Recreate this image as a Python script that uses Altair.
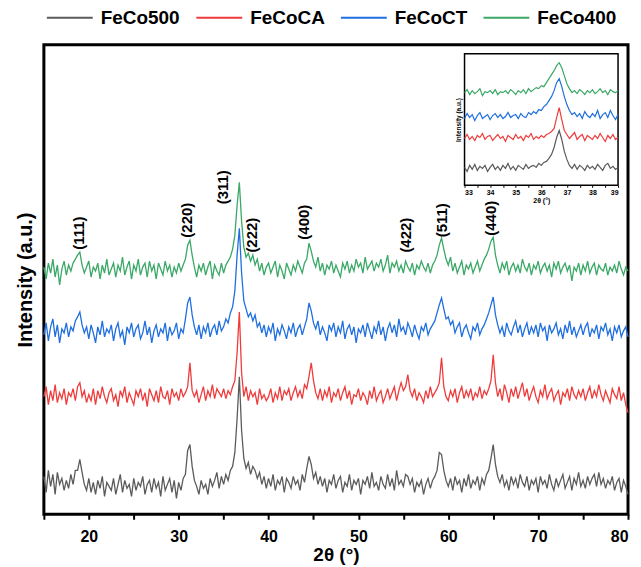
import altair as alt
import pandas as pd

# ---------------- data ----------------
series_names = ["FeCo500", "FeCoCA", "FeCoCT", "FeCo400"]
series_colors = ["#5b5b5b", "#ef3b3b", "#1f6fe0", "#3aa866"]
series_offsets = [0, 88, 152, 214]          # vertical stacking offsets (a.u.)

theta_start = 15.0                          # 2theta of first sample
theta_step = 0.25                           # sampling step

feco500 = [
    38, 22, 44, 28, 40, 20, 42, 30, 36, 24,
    34, 26, 40, 30, 44, 44, 55, 42, 30, 24,
    36, 22, 32, 20, 34, 26, 38, 18, 32, 28,
    24, 36, 20, 30, 40, 22, 34, 26, 30, 18,
    36, 24, 32, 28, 38, 20, 30, 34, 22, 36,
    26, 32, 18, 38, 24, 30, 36, 22, 34, 16,
    32, 24, 36, 40, 64, 70, 48, 34, 28, 20,
    34, 26, 30, 20, 36, 28, 34, 42, 26, 38,
    30, 40, 34, 44, 48, 62, 96, 138, 84, 56,
    46, 52, 40, 48, 44, 36, 42, 30, 38, 26,
    36, 28, 40, 24, 34, 30, 38, 22, 36, 32,
    26, 38, 30, 34, 24, 40, 32, 46, 58, 50,
    36, 42, 30, 38, 28, 36, 22, 34, 30, 40,
    26, 34, 38, 22, 32, 28, 40, 24, 34, 30,
    36, 20, 34, 30, 38, 26, 42, 28, 32, 24,
    38, 30, 26, 40, 28, 36, 24, 44, 30, 34,
    28, 40, 38, 30, 36, 22, 32, 28, 34, 20,
    30, 36, 26, 34, 38, 44, 62, 60, 44, 34,
    28, 36, 24, 38, 30, 34, 22, 36, 28, 40,
    26, 34, 30, 38, 24, 36, 30, 40, 44, 56,
    70, 50, 38, 32, 40, 28, 34, 24, 38, 30,
    36, 26, 40, 32, 28, 38, 24, 34, 30, 36,
    22, 38, 30, 34, 26, 40, 30, 24, 36, 28,
    34, 40, 26, 32, 38, 24, 36, 30, 42, 28,
    34, 26, 38, 30, 36, 40, 28, 42, 30, 36,
    26, 34, 30, 38, 24, 32, 36, 22, 34, 28,
    20,
]

fecoca = [
    30, 40, 22, 36, 26, 42, 24, 34, 28, 38,
    22, 34, 30, 38, 26, 40, 44, 30, 36, 24,
    32, 26, 38, 22, 36, 28, 40, 30, 24, 34,
    38, 26, 32, 20, 36, 30, 40, 24, 34, 28,
    22, 36, 30, 38, 26, 34, 20, 38, 32, 26,
    36, 24, 40, 30, 28, 36, 22, 38, 30, 34,
    26, 38, 30, 34, 40, 64, 36, 30, 36, 24,
    32, 40, 26, 36, 30, 42, 28, 38, 34, 30,
    38, 28, 36, 32, 40, 46, 74, 115, 54, 30,
    40, 26, 36, 30, 34, 22, 38, 28, 32, 26,
    30, 38, 24, 34, 28, 40, 26, 36, 32, 38,
    26, 34, 40, 30, 36, 28, 42, 38, 50, 64,
    46, 34, 28, 38, 26, 36, 30, 40, 24, 34,
    30, 38, 26, 34, 40, 28, 36, 22, 32, 30,
    38, 26, 34, 30, 22, 36, 28, 40, 26, 32,
    36, 24, 30, 38, 28, 34, 40, 26, 36, 44,
    36, 40, 52, 36, 30, 38, 26, 34, 30, 24,
    36, 28, 40, 30, 34, 38, 44, 69, 40, 30,
    26, 36, 30, 38, 24, 34, 40, 28, 36, 30,
    38, 26, 34, 30, 40, 28, 36, 32, 38, 46,
    72, 44, 30, 38, 26, 42, 34, 24, 38, 30,
    40, 28, 36, 44, 30, 38, 26, 34, 40, 30,
    24, 36, 30, 42, 28, 34, 38, 26, 32, 36,
    22, 34, 30, 38, 26, 40, 32, 28, 36, 30,
    38, 26, 34, 40, 28, 36, 30, 42, 32, 26,
    36, 30, 24, 38, 32, 28, 40, 26, 34, 22,
    14,
]

fecoct = [
    28, 40, 22, 36, 44, 26, 38, 20, 34, 30,
    40, 26, 36, 32, 42, 46, 51, 38, 30, 36,
    24, 38, 30, 20, 36, 28, 42, 26, 34, 30,
    38, 22, 34, 40, 26, 32, 18, 36, 30, 40,
    26, 34, 38, 24, 30, 42, 28, 36, 20, 32,
    38, 26, 34, 30, 40, 22, 36, 28, 32, 40,
    24, 34, 30, 44, 60, 66, 48, 36, 28, 38,
    24, 36, 30, 40, 26, 34, 38, 28, 42, 32,
    36, 44, 40, 50, 56, 72, 108, 135, 90, 62,
    54, 46, 50, 42, 48, 36, 40, 30, 38, 26,
    36, 30, 40, 22, 34, 28, 38, 32, 24, 36,
    30, 40, 26, 34, 38, 28, 36, 44, 60, 52,
    40, 34, 42, 28, 36, 30, 22, 38, 32, 40,
    26, 36, 30, 42, 24, 34, 38, 28, 36, 20,
    34, 30, 38, 26, 40, 32, 24, 36, 30, 42,
    28, 36, 22, 34, 40, 30, 38, 26, 44, 32,
    36, 28, 40, 34, 26, 38, 30, 24, 36, 32,
    40, 28, 34, 38, 42, 50, 58, 65, 54, 44,
    46, 38, 42, 30, 36, 40, 26, 34, 38, 30,
    24, 36, 32, 40, 28, 34, 38, 44, 50, 58,
    66, 48, 38, 30, 36, 26, 40, 32, 28, 36,
    42, 30, 38, 26, 34, 40, 28, 36, 30, 38,
    26, 40, 32, 36, 22, 38, 30, 34, 40, 28,
    34, 24, 38, 30, 42, 28, 36, 26, 32, 38,
    28, 36, 40, 26, 34, 30, 38, 24, 36, 32,
    40, 28, 34, 22, 36, 30, 38, 26, 32, 36,
    26,
]

feco400 = [
    34, 22, 38, 28, 42, 24, 36, 16, 32, 40,
    26, 36, 30, 38, 42, 46, 49, 36, 28, 34,
    40, 24, 34, 30, 38, 22, 36, 28, 42, 26,
    32, 38, 24, 36, 30, 44, 26, 34, 40, 22,
    36, 30, 42, 26, 34, 38, 24, 40, 30, 36,
    22, 38, 32, 26, 40, 30, 36, 24, 34, 28,
    38, 30, 36, 42, 56, 61, 46, 34, 24, 36,
    30, 38, 26, 34, 40, 22, 36, 30, 26, 38,
    28, 36, 40, 44, 52, 66, 96, 119, 80, 54,
    44, 48, 40, 46, 36, 42, 30, 38, 26, 34,
    38, 28, 34, 40, 24, 36, 30, 22, 38, 32,
    26, 36, 30, 40, 34, 28, 38, 42, 58, 50,
    40, 34, 44, 30, 38, 26, 36, 32, 40, 28,
    36, 30, 24, 38, 32, 40, 28, 36, 30, 42,
    34, 38, 28, 44, 32, 36, 40, 30, 38, 34,
    42, 30, 36, 46, 28, 38, 34, 40, 30, 36,
    28, 40, 34, 30, 38, 26, 36, 32, 40, 34,
    30, 38, 28, 36, 40, 46, 56, 63, 52, 42,
    36, 44, 30, 38, 28, 34, 40, 26, 36, 32,
    38, 28, 34, 40, 30, 36, 42, 46, 52, 60,
    64, 46, 36, 28, 38, 32, 40, 26, 34, 38,
    30, 36, 28, 42, 34, 30, 38, 26, 36, 32,
    40, 28, 34, 38, 30, 36, 24, 38, 32, 40,
    28, 34, 38, 30, 36, 20, 34, 30, 38, 26,
    36, 30, 40, 28, 34, 38, 26, 36, 32, 30,
    38, 26, 34, 30, 36, 28, 40, 32, 26, 34,
    30,
]

# Miller-index annotations
peak_labels = ["(111)", "(220)", "(311)", "(222)", "(400)", "(422)", "(511)", "(440)"]
label_theta = [18.9, 30.9, 34.9, 38.2, 44.0, 55.3, 59.3, 64.7]
label_level = [282, 295, 328, 280, 293, 280, 295, 297]

# inset: zoom on the (311) reflection
inset_theta_start = 33.0
inset_theta_step = 0.1
inset_offsets = [8, 38, 59, 83]
inset_feco500 = [
    10, 6, 12, 8, 13, 7, 11, 9, 12, 6,
    10, 13, 8, 11, 7, 12, 9, 14, 8, 11,
    7, 12, 10, 8, 13, 9, 11, 12, 10, 14,
    12, 15, 16, 19, 23, 30, 40, 47, 38, 26,
    18, 12, 9, 13, 8, 12, 10, 7, 12, 9,
    11, 8, 13, 10, 7, 12, 14, 9, 11, 8,
    10,
]
inset_fecoca = [
    9, 13, 8, 11, 7, 12, 10, 14, 8, 11,
    12, 7, 10, 13, 9, 11, 6, 12, 10, 8,
    13, 9, 11, 7, 12, 10, 14, 8, 11, 9,
    12, 10, 13, 14, 16, 19, 30, 40, 28, 17,
    13, 9, 12, 15, 8, 11, 13, 7, 12, 10,
    8, 12, 9, 14, 10, 6, 12, 9, 13, 8,
    10,
]
inset_fecoct = [
    8, 13, 9, 12, 6, 11, 14, 8, 10, 12,
    7, 11, 13, 9, 12, 8, 10, 14, 9, 11,
    12, 8, 13, 10, 9, 14, 12, 15, 13, 17,
    16, 20, 22, 26, 30, 36, 44, 48, 40, 30,
    22, 16, 12, 14, 10, 13, 8, 15, 11, 9,
    13, 10, 16, 8, 12, 14, 9, 16, 11, 7,
    12,
]
inset_feco400 = [
    10, 13, 8, 12, 9, 11, 14, 7, 11, 10,
    12, 9, 13, 8, 11, 10, 12, 9, 13, 11,
    8, 12, 10, 13, 9, 14, 11, 13, 15, 14,
    17, 16, 20, 24, 28, 32, 37, 40, 35, 27,
    19, 14, 10, 12, 9, 13, 11, 8, 12, 10,
    13, 9, 11, 14, 10, 12, 8, 13, 11, 10,
    12,
]

main_series = [feco500, fecoca, fecoct, feco400]
inset_series = [inset_feco500, inset_fecoca, inset_fecoct, inset_feco400]

# ---------------- tables ----------------
rows = []
for name, vals, off in zip(series_names, main_series, series_offsets):
    for i, v in enumerate(vals):
        rows.append({"series": name, "theta": theta_start + theta_step * i, "intensity": v + off})
main_df = pd.DataFrame(rows)

irows = []
for name, vals, off in zip(series_names, inset_series, inset_offsets):
    for i, v in enumerate(vals):
        irows.append({"series": name, "theta": round(inset_theta_start + inset_theta_step * i, 2),
                      "intensity": v + off})
inset_df = pd.DataFrame(irows)

labels_df = pd.DataFrame({"label": peak_labels, "theta": label_theta, "intensity": label_level})

inset_x_dom = [33, 39]
inset_y_dom = [0, 132]
frame_df = pd.DataFrame({"theta": [inset_x_dom[0]], "theta2": [inset_x_dom[1]],
                         "intensity": [inset_y_dom[0]], "intensity2": [inset_y_dom[1]]})

# ---------------- encodings ----------------
FONT = "Liberation Sans"
W, H = 586, 471

x_main = alt.X("theta:Q",
               scale=alt.Scale(domain=[15, 80], nice=False, zero=False),
               axis=alt.Axis(values=list(range(15, 81, 5)),
                             labelExpr="datum.value % 10 == 0 ? datum.label : ''",
                             title="2θ (°)", titleFontSize=19, titleFontWeight="bold",
                             labelFontSize=16, labelFontWeight="bold",
                             tickSize=5, tickWidth=2, tickColor="black",
                             labelColor="black", titleColor="black",
                             domain=False, grid=False, labelPadding=9, titlePadding=1))
y_main = alt.Y("intensity:Q",
               scale=alt.Scale(domain=[0, H], nice=False, zero=False),
               axis=alt.Axis(title="Intensity (a.u.)", labels=False, ticks=False, domain=False,
                             grid=False, titleFontSize=20, titleFontWeight="bold",
                             titleColor="black", titlePadding=8))
color_enc = alt.Color("series:N",
                      scale=alt.Scale(domain=series_names, range=series_colors),
                      legend=alt.Legend(orient="none", legendX=2, legendY=-51,
                                        direction="horizontal", columns=4, title=None,
                                        symbolType="stroke", symbolSize=2116,
                                        symbolStrokeWidth=2, labelFontSize=19,
                                        labelFontWeight="bold", labelColor="black",
                                        columnPadding=12, labelOffset=7, padding=0,
                                        labelLimit=0))

lines = alt.Chart(main_df).mark_line(strokeWidth=1.3).encode(
    x=x_main, y=y_main, color=color_enc)
texts = alt.Chart(labels_df).mark_text(angle=270, fontSize=15, fontWeight="bold",
                                       color="black", align="center", baseline="middle").encode(
    x=x_main, y=y_main, text="label:N")
main = alt.layer(lines, texts)

x_inset = alt.X("theta:Q",
                scale=alt.Scale(domain=inset_x_dom, range=[422, 576], nice=False, zero=False),
                axis=alt.Axis(orient="bottom", offset=-330,
                              values=[33, 33.5, 34, 34.5, 35, 35.5, 36, 36.5, 37, 37.5, 38, 38.5, 39],
                              labelExpr="datum.value % 1 == 0 ? format(datum.value, 'd') : ''",
                              title="2θ (°)", titleFontSize=7, titleFontWeight="bold",
                              labelFontSize=7, labelFontWeight="bold", labelColor="black",
                              titleColor="black", tickSize=2, tickWidth=1, tickColor="black",
                              domain=False, grid=False, labelPadding=1, titlePadding=1))
y_inset = alt.Y("intensity:Q",
                scale=alt.Scale(domain=inset_y_dom, range=[141, 9], nice=False, zero=False),
                axis=alt.Axis(orient="left", offset=-422, labels=False, ticks=False,
                              domain=False, grid=False, title="Intensity (a.u.)",
                              titleFontSize=6.5, titleFontWeight="bold", titleColor="black",
                              titlePadding=3))

frame = alt.Chart(frame_df).mark_rect(fill="white", stroke="black", strokeWidth=1.5).encode(
    x=x_inset, x2="theta2:Q", y=y_inset, y2="intensity2:Q")
inset_lines = alt.Chart(inset_df).mark_line(strokeWidth=1.2).encode(
    x=x_inset, y=y_inset, color=color_enc)
inset = alt.layer(frame, inset_lines)

chart = alt.layer(main, inset).resolve_scale(x="independent", y="independent").properties(
    width=W, height=H,
    padding={"left": 36, "top": 36, "right": 5, "bottom": 52},
    autosize=alt.AutoSizeParams(type="none"),
).configure(font=FONT, background="white").configure_view(stroke="black", strokeWidth=3)

chart.save("out.html", embed_options={"renderer": "svg", "actions": False})
